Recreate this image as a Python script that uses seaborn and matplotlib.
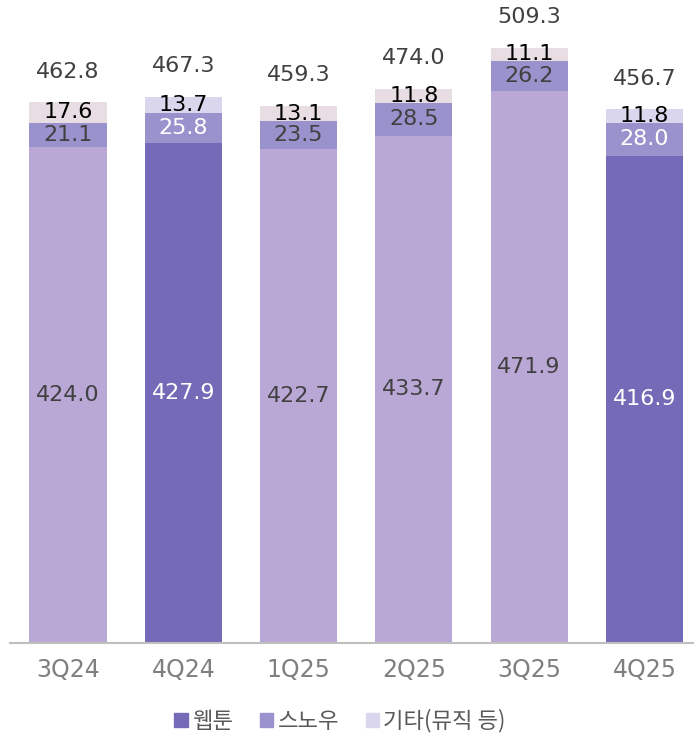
import matplotlib.pyplot as plt
import seaborn as sns
import numpy as np
from matplotlib.patches import Patch

# Data
quarters = ['3Q24', '4Q24', '1Q25', '2Q25', '3Q25', '4Q25']
webtoon = [424.0, 427.9, 422.7, 433.7, 471.9, 416.9]
snow = [21.1, 25.8, 23.5, 28.5, 26.2, 28.0]
other = [17.6, 13.7, 13.1, 11.8, 11.1, 11.8]
totals = [462.8, 467.3, 459.3, 474.0, 509.3, 456.7]
highlight = [False, True, False, False, False, True]
legend_labels = ['웹툰', '스노우', '기타(뮤직 등)']

sns.set_theme(style='white')
plt.rcParams['font.family'] = ['Noto Sans CJK KR', 'DejaVu Sans']

fig = plt.figure(figsize=(6.94, 7.35), dpi=100)
ax = fig.add_axes([10 / 694, 1 - 643 / 735, 684 / 694, 643 / 735])

web_dark, web_light = '#736bb8', '#b9a8d5'
snow_c = '#9a92cc'
other_dark, other_light = '#d9d6ee', '#e8dde2'

w = np.array(webtoon)
s = np.array(snow)
o = np.array(other)
width = 0.67

sns.barplot(x=quarters, y=w, color=web_light, width=width, ax=ax, linewidth=0, saturation=1)
sns.barplot(x=quarters, y=s, bottom=w, color=snow_c, width=width, ax=ax, linewidth=0, saturation=1)
sns.barplot(x=quarters, y=o, bottom=w + s, color=other_light, width=width, ax=ax, linewidth=0,
            saturation=1)

n = len(quarters)
for i, p in enumerate(ax.patches[:n]):
    if highlight[i]:
        p.set_facecolor(web_dark)
for i, p in enumerate(ax.patches[2 * n:3 * n]):
    if highlight[i]:
        p.set_facecolor(other_dark)

fs = 16
num_font = ['DejaVu Sans']
for i in range(n):
    hc = 'white' if highlight[i] else '#404040'
    ax.text(i, w[i] / 2, f'{w[i]:.1f}', ha='center', va='center', fontsize=fs, color=hc,
            family=num_font)
    ax.text(i, w[i] + s[i] / 2, f'{s[i]:.1f}', ha='center', va='center', fontsize=fs, color=hc,
            family=num_font)
    ax.text(i, w[i] + s[i] + o[i] / 2, f'{o[i]:.1f}', ha='center', va='center', fontsize=fs,
            color='black', family=num_font)
    ax.annotate(f'{totals[i]:.1f}', (i, w[i] + s[i] + o[i]), xytext=(0, 22),
                textcoords='offset points', ha='center', va='center', fontsize=fs,
                color='#404040', family=num_font)

ax.set_xlim(-0.503, 5.43)
ax.set_ylim(0, 550)
ax.set_yticks([])
ax.set_ylabel('')
for side in ['left', 'right', 'top']:
    ax.spines[side].set_visible(False)
ax.spines['bottom'].set_color('#bfbfbf')
ax.spines['bottom'].set_linewidth(1.5)
ax.tick_params(axis='x', length=0, pad=11, labelsize=17, labelcolor='#7f7f7f')
for lab in ax.get_xticklabels():
    lab.set_family(num_font)

handles = [Patch(color=web_dark), Patch(color=snow_c), Patch(color=other_dark)]
fig.legend(handles, legend_labels, loc='center', bbox_to_anchor=(0.49, 1 - 721 / 735),
           ncol=3, frameon=False, fontsize=16, handlelength=0.6, handleheight=0.6,
           handletextpad=0.2, columnspacing=1.2, labelcolor='#595959')

fig.savefig('out.png', dpi=100)
